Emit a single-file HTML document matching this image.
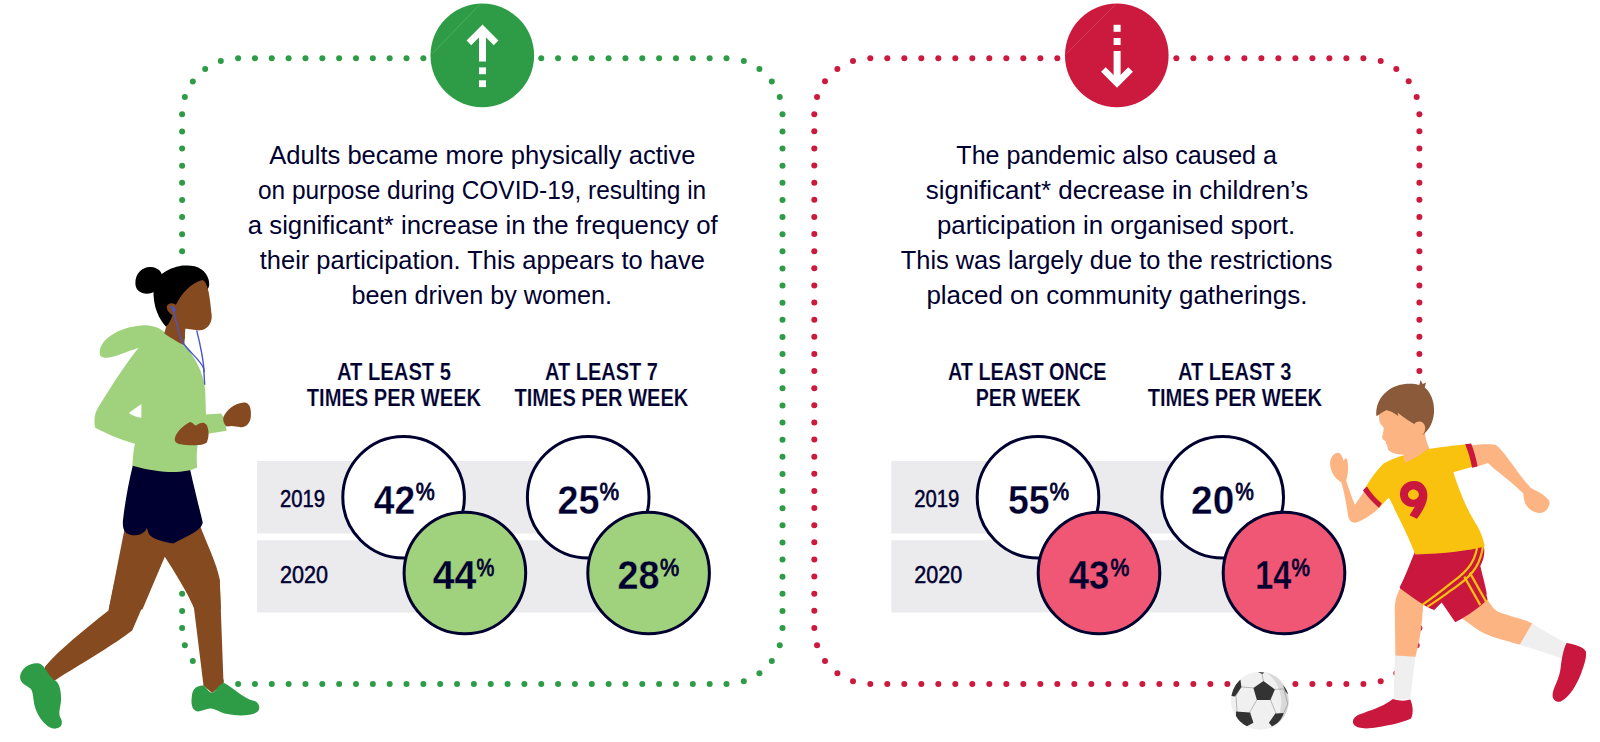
<!DOCTYPE html>
<html><head><meta charset="utf-8"><style>
html,body{margin:0;padding:0;background:#fff;width:1600px;height:742px;overflow:hidden}
svg{display:block;font-family:"Liberation Sans",sans-serif}
</style></head><body>
<svg width="1600" height="742" viewBox="0 0 1600 742">
<g fill="#2e9c46"><circle cx="238.10" cy="58.30" r="3.0"/><circle cx="254.94" cy="58.30" r="3.0"/><circle cx="271.78" cy="58.30" r="3.0"/><circle cx="288.62" cy="58.30" r="3.0"/><circle cx="305.47" cy="58.30" r="3.0"/><circle cx="322.31" cy="58.30" r="3.0"/><circle cx="339.15" cy="58.30" r="3.0"/><circle cx="355.99" cy="58.30" r="3.0"/><circle cx="372.83" cy="58.30" r="3.0"/><circle cx="389.67" cy="58.30" r="3.0"/><circle cx="406.51" cy="58.30" r="3.0"/><circle cx="423.36" cy="58.30" r="3.0"/><circle cx="440.20" cy="58.30" r="3.0"/><circle cx="457.04" cy="58.30" r="3.0"/><circle cx="473.88" cy="58.30" r="3.0"/><circle cx="490.72" cy="58.30" r="3.0"/><circle cx="507.56" cy="58.30" r="3.0"/><circle cx="524.40" cy="58.30" r="3.0"/><circle cx="541.24" cy="58.30" r="3.0"/><circle cx="558.09" cy="58.30" r="3.0"/><circle cx="574.93" cy="58.30" r="3.0"/><circle cx="591.77" cy="58.30" r="3.0"/><circle cx="608.61" cy="58.30" r="3.0"/><circle cx="625.45" cy="58.30" r="3.0"/><circle cx="642.29" cy="58.30" r="3.0"/><circle cx="659.13" cy="58.30" r="3.0"/><circle cx="675.98" cy="58.30" r="3.0"/><circle cx="692.82" cy="58.30" r="3.0"/><circle cx="709.66" cy="58.30" r="3.0"/><circle cx="726.50" cy="58.30" r="3.0"/><circle cx="743.80" cy="61.04" r="3.0"/><circle cx="759.42" cy="69.00" r="3.0"/><circle cx="771.80" cy="81.38" r="3.0"/><circle cx="779.76" cy="97.00" r="3.0"/><circle cx="782.50" cy="114.30" r="3.0"/><circle cx="782.50" cy="131.42" r="3.0"/><circle cx="782.50" cy="148.55" r="3.0"/><circle cx="782.50" cy="165.67" r="3.0"/><circle cx="782.50" cy="182.79" r="3.0"/><circle cx="782.50" cy="199.92" r="3.0"/><circle cx="782.50" cy="217.04" r="3.0"/><circle cx="782.50" cy="234.16" r="3.0"/><circle cx="782.50" cy="251.29" r="3.0"/><circle cx="782.50" cy="268.41" r="3.0"/><circle cx="782.50" cy="285.53" r="3.0"/><circle cx="782.50" cy="302.66" r="3.0"/><circle cx="782.50" cy="319.78" r="3.0"/><circle cx="782.50" cy="336.90" r="3.0"/><circle cx="782.50" cy="354.03" r="3.0"/><circle cx="782.50" cy="371.15" r="3.0"/><circle cx="782.50" cy="388.27" r="3.0"/><circle cx="782.50" cy="405.40" r="3.0"/><circle cx="782.50" cy="422.52" r="3.0"/><circle cx="782.50" cy="439.64" r="3.0"/><circle cx="782.50" cy="456.77" r="3.0"/><circle cx="782.50" cy="473.89" r="3.0"/><circle cx="782.50" cy="491.01" r="3.0"/><circle cx="782.50" cy="508.14" r="3.0"/><circle cx="782.50" cy="525.26" r="3.0"/><circle cx="782.50" cy="542.38" r="3.0"/><circle cx="782.50" cy="559.51" r="3.0"/><circle cx="782.50" cy="576.63" r="3.0"/><circle cx="782.50" cy="593.75" r="3.0"/><circle cx="782.50" cy="610.88" r="3.0"/><circle cx="782.50" cy="628.00" r="3.0"/><circle cx="779.76" cy="645.30" r="3.0"/><circle cx="771.80" cy="660.92" r="3.0"/><circle cx="759.42" cy="673.30" r="3.0"/><circle cx="743.80" cy="681.26" r="3.0"/><circle cx="726.50" cy="684.00" r="3.0"/><circle cx="709.66" cy="684.00" r="3.0"/><circle cx="692.82" cy="684.00" r="3.0"/><circle cx="675.98" cy="684.00" r="3.0"/><circle cx="659.13" cy="684.00" r="3.0"/><circle cx="642.29" cy="684.00" r="3.0"/><circle cx="625.45" cy="684.00" r="3.0"/><circle cx="608.61" cy="684.00" r="3.0"/><circle cx="591.77" cy="684.00" r="3.0"/><circle cx="574.93" cy="684.00" r="3.0"/><circle cx="558.09" cy="684.00" r="3.0"/><circle cx="541.24" cy="684.00" r="3.0"/><circle cx="524.40" cy="684.00" r="3.0"/><circle cx="507.56" cy="684.00" r="3.0"/><circle cx="490.72" cy="684.00" r="3.0"/><circle cx="473.88" cy="684.00" r="3.0"/><circle cx="457.04" cy="684.00" r="3.0"/><circle cx="440.20" cy="684.00" r="3.0"/><circle cx="423.36" cy="684.00" r="3.0"/><circle cx="406.51" cy="684.00" r="3.0"/><circle cx="389.67" cy="684.00" r="3.0"/><circle cx="372.83" cy="684.00" r="3.0"/><circle cx="355.99" cy="684.00" r="3.0"/><circle cx="339.15" cy="684.00" r="3.0"/><circle cx="322.31" cy="684.00" r="3.0"/><circle cx="305.47" cy="684.00" r="3.0"/><circle cx="288.62" cy="684.00" r="3.0"/><circle cx="271.78" cy="684.00" r="3.0"/><circle cx="254.94" cy="684.00" r="3.0"/><circle cx="238.10" cy="684.00" r="3.0"/><circle cx="220.80" cy="681.26" r="3.0"/><circle cx="205.18" cy="673.30" r="3.0"/><circle cx="192.80" cy="660.92" r="3.0"/><circle cx="184.84" cy="645.30" r="3.0"/><circle cx="182.10" cy="628.00" r="3.0"/><circle cx="182.10" cy="610.88" r="3.0"/><circle cx="182.10" cy="593.75" r="3.0"/><circle cx="182.10" cy="576.63" r="3.0"/><circle cx="182.10" cy="559.51" r="3.0"/><circle cx="182.10" cy="542.38" r="3.0"/><circle cx="182.10" cy="525.26" r="3.0"/><circle cx="182.10" cy="508.14" r="3.0"/><circle cx="182.10" cy="491.01" r="3.0"/><circle cx="182.10" cy="473.89" r="3.0"/><circle cx="182.10" cy="456.77" r="3.0"/><circle cx="182.10" cy="439.64" r="3.0"/><circle cx="182.10" cy="422.52" r="3.0"/><circle cx="182.10" cy="405.40" r="3.0"/><circle cx="182.10" cy="388.27" r="3.0"/><circle cx="182.10" cy="371.15" r="3.0"/><circle cx="182.10" cy="354.03" r="3.0"/><circle cx="182.10" cy="336.90" r="3.0"/><circle cx="182.10" cy="319.78" r="3.0"/><circle cx="182.10" cy="302.66" r="3.0"/><circle cx="182.10" cy="285.53" r="3.0"/><circle cx="182.10" cy="268.41" r="3.0"/><circle cx="182.10" cy="251.29" r="3.0"/><circle cx="182.10" cy="234.16" r="3.0"/><circle cx="182.10" cy="217.04" r="3.0"/><circle cx="182.10" cy="199.92" r="3.0"/><circle cx="182.10" cy="182.79" r="3.0"/><circle cx="182.10" cy="165.67" r="3.0"/><circle cx="182.10" cy="148.55" r="3.0"/><circle cx="182.10" cy="131.42" r="3.0"/><circle cx="182.10" cy="114.30" r="3.0"/><circle cx="184.84" cy="97.00" r="3.0"/><circle cx="192.80" cy="81.38" r="3.0"/><circle cx="205.18" cy="69.00" r="3.0"/><circle cx="220.80" cy="61.04" r="3.0"/></g>
<g fill="#cc1a3e"><circle cx="870.30" cy="58.20" r="3.0"/><circle cx="887.30" cy="58.20" r="3.0"/><circle cx="904.31" cy="58.20" r="3.0"/><circle cx="921.31" cy="58.20" r="3.0"/><circle cx="938.31" cy="58.20" r="3.0"/><circle cx="955.32" cy="58.20" r="3.0"/><circle cx="972.32" cy="58.20" r="3.0"/><circle cx="989.32" cy="58.20" r="3.0"/><circle cx="1006.33" cy="58.20" r="3.0"/><circle cx="1023.33" cy="58.20" r="3.0"/><circle cx="1040.33" cy="58.20" r="3.0"/><circle cx="1057.34" cy="58.20" r="3.0"/><circle cx="1074.34" cy="58.20" r="3.0"/><circle cx="1091.34" cy="58.20" r="3.0"/><circle cx="1108.35" cy="58.20" r="3.0"/><circle cx="1125.35" cy="58.20" r="3.0"/><circle cx="1142.36" cy="58.20" r="3.0"/><circle cx="1159.36" cy="58.20" r="3.0"/><circle cx="1176.36" cy="58.20" r="3.0"/><circle cx="1193.37" cy="58.20" r="3.0"/><circle cx="1210.37" cy="58.20" r="3.0"/><circle cx="1227.37" cy="58.20" r="3.0"/><circle cx="1244.38" cy="58.20" r="3.0"/><circle cx="1261.38" cy="58.20" r="3.0"/><circle cx="1278.38" cy="58.20" r="3.0"/><circle cx="1295.39" cy="58.20" r="3.0"/><circle cx="1312.39" cy="58.20" r="3.0"/><circle cx="1329.39" cy="58.20" r="3.0"/><circle cx="1346.40" cy="58.20" r="3.0"/><circle cx="1363.40" cy="58.20" r="3.0"/><circle cx="1380.70" cy="60.94" r="3.0"/><circle cx="1396.32" cy="68.90" r="3.0"/><circle cx="1408.70" cy="81.28" r="3.0"/><circle cx="1416.66" cy="96.90" r="3.0"/><circle cx="1419.40" cy="114.20" r="3.0"/><circle cx="1419.40" cy="131.33" r="3.0"/><circle cx="1419.40" cy="148.45" r="3.0"/><circle cx="1419.40" cy="165.58" r="3.0"/><circle cx="1419.40" cy="182.71" r="3.0"/><circle cx="1419.40" cy="199.83" r="3.0"/><circle cx="1419.40" cy="216.96" r="3.0"/><circle cx="1419.40" cy="234.09" r="3.0"/><circle cx="1419.40" cy="251.21" r="3.0"/><circle cx="1419.40" cy="268.34" r="3.0"/><circle cx="1419.40" cy="285.47" r="3.0"/><circle cx="1419.40" cy="302.59" r="3.0"/><circle cx="1419.40" cy="319.72" r="3.0"/><circle cx="1419.40" cy="336.85" r="3.0"/><circle cx="1419.40" cy="353.97" r="3.0"/><circle cx="1419.40" cy="371.10" r="3.0"/><circle cx="1419.40" cy="388.23" r="3.0"/><circle cx="1419.40" cy="405.35" r="3.0"/><circle cx="1419.40" cy="422.48" r="3.0"/><circle cx="1419.40" cy="439.61" r="3.0"/><circle cx="1419.40" cy="456.73" r="3.0"/><circle cx="1419.40" cy="473.86" r="3.0"/><circle cx="1419.40" cy="490.99" r="3.0"/><circle cx="1419.40" cy="508.11" r="3.0"/><circle cx="1419.40" cy="525.24" r="3.0"/><circle cx="1419.40" cy="542.37" r="3.0"/><circle cx="1419.40" cy="559.49" r="3.0"/><circle cx="1419.40" cy="576.62" r="3.0"/><circle cx="1419.40" cy="593.75" r="3.0"/><circle cx="1419.40" cy="610.87" r="3.0"/><circle cx="1419.40" cy="628.00" r="3.0"/><circle cx="1416.66" cy="645.30" r="3.0"/><circle cx="1408.70" cy="660.92" r="3.0"/><circle cx="1396.32" cy="673.30" r="3.0"/><circle cx="1380.70" cy="681.26" r="3.0"/><circle cx="1363.40" cy="684.00" r="3.0"/><circle cx="1346.40" cy="684.00" r="3.0"/><circle cx="1329.39" cy="684.00" r="3.0"/><circle cx="1312.39" cy="684.00" r="3.0"/><circle cx="1295.39" cy="684.00" r="3.0"/><circle cx="1278.38" cy="684.00" r="3.0"/><circle cx="1261.38" cy="684.00" r="3.0"/><circle cx="1244.38" cy="684.00" r="3.0"/><circle cx="1227.37" cy="684.00" r="3.0"/><circle cx="1210.37" cy="684.00" r="3.0"/><circle cx="1193.37" cy="684.00" r="3.0"/><circle cx="1176.36" cy="684.00" r="3.0"/><circle cx="1159.36" cy="684.00" r="3.0"/><circle cx="1142.36" cy="684.00" r="3.0"/><circle cx="1125.35" cy="684.00" r="3.0"/><circle cx="1108.35" cy="684.00" r="3.0"/><circle cx="1091.34" cy="684.00" r="3.0"/><circle cx="1074.34" cy="684.00" r="3.0"/><circle cx="1057.34" cy="684.00" r="3.0"/><circle cx="1040.33" cy="684.00" r="3.0"/><circle cx="1023.33" cy="684.00" r="3.0"/><circle cx="1006.33" cy="684.00" r="3.0"/><circle cx="989.32" cy="684.00" r="3.0"/><circle cx="972.32" cy="684.00" r="3.0"/><circle cx="955.32" cy="684.00" r="3.0"/><circle cx="938.31" cy="684.00" r="3.0"/><circle cx="921.31" cy="684.00" r="3.0"/><circle cx="904.31" cy="684.00" r="3.0"/><circle cx="887.30" cy="684.00" r="3.0"/><circle cx="870.30" cy="684.00" r="3.0"/><circle cx="853.00" cy="681.26" r="3.0"/><circle cx="837.38" cy="673.30" r="3.0"/><circle cx="825.00" cy="660.92" r="3.0"/><circle cx="817.04" cy="645.30" r="3.0"/><circle cx="814.30" cy="628.00" r="3.0"/><circle cx="814.30" cy="610.87" r="3.0"/><circle cx="814.30" cy="593.75" r="3.0"/><circle cx="814.30" cy="576.62" r="3.0"/><circle cx="814.30" cy="559.49" r="3.0"/><circle cx="814.30" cy="542.37" r="3.0"/><circle cx="814.30" cy="525.24" r="3.0"/><circle cx="814.30" cy="508.11" r="3.0"/><circle cx="814.30" cy="490.99" r="3.0"/><circle cx="814.30" cy="473.86" r="3.0"/><circle cx="814.30" cy="456.73" r="3.0"/><circle cx="814.30" cy="439.61" r="3.0"/><circle cx="814.30" cy="422.48" r="3.0"/><circle cx="814.30" cy="405.35" r="3.0"/><circle cx="814.30" cy="388.23" r="3.0"/><circle cx="814.30" cy="371.10" r="3.0"/><circle cx="814.30" cy="353.97" r="3.0"/><circle cx="814.30" cy="336.85" r="3.0"/><circle cx="814.30" cy="319.72" r="3.0"/><circle cx="814.30" cy="302.59" r="3.0"/><circle cx="814.30" cy="285.47" r="3.0"/><circle cx="814.30" cy="268.34" r="3.0"/><circle cx="814.30" cy="251.21" r="3.0"/><circle cx="814.30" cy="234.09" r="3.0"/><circle cx="814.30" cy="216.96" r="3.0"/><circle cx="814.30" cy="199.83" r="3.0"/><circle cx="814.30" cy="182.71" r="3.0"/><circle cx="814.30" cy="165.58" r="3.0"/><circle cx="814.30" cy="148.45" r="3.0"/><circle cx="814.30" cy="131.33" r="3.0"/><circle cx="814.30" cy="114.20" r="3.0"/><circle cx="817.04" cy="96.90" r="3.0"/><circle cx="825.00" cy="81.28" r="3.0"/><circle cx="837.38" cy="68.90" r="3.0"/><circle cx="853.00" cy="60.94" r="3.0"/></g>
<circle cx="482.3" cy="55.4" r="51.8" fill="#2e9c46"/>
<line x1="479.7" y1="4.6" x2="432.4" y2="53.5" stroke="#fff" stroke-opacity="0.25" stroke-width="0.6"/>
<g fill="#fff" stroke="none"><rect x="479" y="33" width="7" height="28.5"/><rect x="479" y="67.4" width="7" height="6.8"/><rect x="479" y="80.3" width="7" height="6.8"/></g><polyline points="468.9,42.8 482.5,29.2 496.1,42.8" fill="none" stroke="#fff" stroke-width="6.6" stroke-miterlimit="10"/>
<circle cx="1116.8" cy="55.4" r="51.8" fill="#cc1a3e"/>
<line x1="1115.5" y1="4.6" x2="1066.6" y2="53.5" stroke="#fff" stroke-opacity="0.25" stroke-width="0.6"/>
<g fill="#fff" stroke="none"><rect x="1113.6" y="51" width="7" height="29"/><rect x="1113.6" y="38" width="7" height="7"/><rect x="1113.6" y="24.8" width="7" height="7"/></g><polyline points="1103.4,69.5 1117,83 1130.6,69.5" fill="none" stroke="#fff" stroke-width="6.6" stroke-miterlimit="10"/>
<text transform="translate(482.35,163.8) scale(1,1.035)" x="0" y="0" font-size="25.4" text-anchor="middle" textLength="426.2" lengthAdjust="spacingAndGlyphs" fill="#000030">Adults became more physically active</text>
<text transform="translate(482.05,199.2) scale(1,1.035)" x="0" y="0" font-size="25.4" text-anchor="middle" textLength="448.2" lengthAdjust="spacingAndGlyphs" fill="#000030">on purpose during COVID-19, resulting in</text>
<text transform="translate(482.7,233.7) scale(1,1.035)" x="0" y="0" font-size="25.4" text-anchor="middle" textLength="469.9" lengthAdjust="spacingAndGlyphs" fill="#000030">a significant* increase in the frequency of</text>
<text transform="translate(482.3,269.0) scale(1,1.035)" x="0" y="0" font-size="25.4" text-anchor="middle" textLength="445.1" lengthAdjust="spacingAndGlyphs" fill="#000030">their participation. This appears to have</text>
<text transform="translate(481.8,304.2) scale(1,1.035)" x="0" y="0" font-size="25.4" text-anchor="middle" textLength="260.6" lengthAdjust="spacingAndGlyphs" fill="#000030">been driven by women.</text>
<text transform="translate(1116.65,163.8) scale(1,1.035)" x="0" y="0" font-size="25.4" text-anchor="middle" textLength="320.6" lengthAdjust="spacingAndGlyphs" fill="#000030">The pandemic also caused a</text>
<text transform="translate(1117.05,199.2) scale(1,1.035)" x="0" y="0" font-size="25.4" text-anchor="middle" textLength="382.4" lengthAdjust="spacingAndGlyphs" fill="#000030">significant* decrease in children’s</text>
<text transform="translate(1116.05,233.7) scale(1,1.035)" x="0" y="0" font-size="25.4" text-anchor="middle" textLength="358.2" lengthAdjust="spacingAndGlyphs" fill="#000030">participation in organised sport.</text>
<text transform="translate(1116.65,269.0) scale(1,1.035)" x="0" y="0" font-size="25.4" text-anchor="middle" textLength="431.8" lengthAdjust="spacingAndGlyphs" fill="#000030">This was largely due to the restrictions</text>
<text transform="translate(1116.9,304.2) scale(1,1.035)" x="0" y="0" font-size="25.4" text-anchor="middle" textLength="381.0" lengthAdjust="spacingAndGlyphs" fill="#000030">placed on community gatherings.</text>
<text transform="translate(394.0,380.0) scale(1,1.17)" x="0" y="0" font-size="20.5" font-weight="700" text-anchor="middle" textLength="114.1" lengthAdjust="spacingAndGlyphs" fill="#000030" stroke="#fff" stroke-width="0.15">AT LEAST 5</text>
<text transform="translate(393.95,405.5) scale(1,1.17)" x="0" y="0" font-size="20.5" font-weight="700" text-anchor="middle" textLength="174.4" lengthAdjust="spacingAndGlyphs" fill="#000030" stroke="#fff" stroke-width="0.15">TIMES PER WEEK</text>
<text transform="translate(601.5,380.0) scale(1,1.17)" x="0" y="0" font-size="20.5" font-weight="700" text-anchor="middle" textLength="113.0" lengthAdjust="spacingAndGlyphs" fill="#000030" stroke="#fff" stroke-width="0.15">AT LEAST 7</text>
<text transform="translate(601.4,405.5) scale(1,1.17)" x="0" y="0" font-size="20.5" font-weight="700" text-anchor="middle" textLength="173.85" lengthAdjust="spacingAndGlyphs" fill="#000030" stroke="#fff" stroke-width="0.15">TIMES PER WEEK</text>
<text transform="translate(1027.2,380.0) scale(1,1.17)" x="0" y="0" font-size="20.5" font-weight="700" text-anchor="middle" textLength="158.65" lengthAdjust="spacingAndGlyphs" fill="#000030" stroke="#fff" stroke-width="0.15">AT LEAST ONCE</text>
<text transform="translate(1028.2,405.5) scale(1,1.17)" x="0" y="0" font-size="20.5" font-weight="700" text-anchor="middle" textLength="104.9" lengthAdjust="spacingAndGlyphs" fill="#000030" stroke="#fff" stroke-width="0.15">PER WEEK</text>
<text transform="translate(1234.6,380.0) scale(1,1.17)" x="0" y="0" font-size="20.5" font-weight="700" text-anchor="middle" textLength="113.4" lengthAdjust="spacingAndGlyphs" fill="#000030" stroke="#fff" stroke-width="0.15">AT LEAST 3</text>
<text transform="translate(1234.9,405.5) scale(1,1.17)" x="0" y="0" font-size="20.5" font-weight="700" text-anchor="middle" textLength="174.5" lengthAdjust="spacingAndGlyphs" fill="#000030" stroke="#fff" stroke-width="0.15">TIMES PER WEEK</text>
<rect x="257" y="461" width="345" height="72.5" fill="#ebebee"/>
<rect x="257" y="540.2" width="345" height="72.3" fill="#ebebee"/>
<text x="280.0" y="507.2" font-size="23.3" font-weight="400" text-anchor="start" textLength="45.0" lengthAdjust="spacingAndGlyphs" fill="#000030" stroke="#000030" stroke-width="0.5">2019</text>
<text x="280.0" y="582.7" font-size="23.3" font-weight="400" text-anchor="start" textLength="48.0" lengthAdjust="spacingAndGlyphs" fill="#000030" stroke="#000030" stroke-width="0.5">2020</text>
<rect x="891.3" y="461" width="345" height="72.5" fill="#ebebee"/>
<rect x="891.3" y="540.2" width="345" height="72.3" fill="#ebebee"/>
<text x="914.3" y="507.2" font-size="23.3" font-weight="400" text-anchor="start" textLength="45.0" lengthAdjust="spacingAndGlyphs" fill="#000030" stroke="#000030" stroke-width="0.5">2019</text>
<text x="914.3" y="582.7" font-size="23.3" font-weight="400" text-anchor="start" textLength="48.0" lengthAdjust="spacingAndGlyphs" fill="#000030" stroke="#000030" stroke-width="0.5">2020</text>
<circle cx="403.6" cy="497.2" r="60.8" fill="#fff" stroke="#000030" stroke-width="3"/>
<text x="373.70" y="513.6" font-size="40" font-weight="700" textLength="41.40" lengthAdjust="spacingAndGlyphs" fill="#000030" stroke="#fff" stroke-width="0.3">42</text>
<text x="415.80" y="499.8" font-size="23.2" font-weight="400" textLength="19.00" lengthAdjust="spacingAndGlyphs" fill="#000030" stroke="#000030" stroke-width="0.8">%</text>
<circle cx="464.9" cy="573.0" r="60.8" fill="#a0d17c" stroke="#000030" stroke-width="3"/>
<text x="432.70" y="589.4" font-size="40" font-weight="700" textLength="43.60" lengthAdjust="spacingAndGlyphs" fill="#000030" stroke="#a0d17c" stroke-width="0.3">44</text>
<text x="476.40" y="575.6" font-size="23.2" font-weight="400" textLength="17.80" lengthAdjust="spacingAndGlyphs" fill="#000030" stroke="#000030" stroke-width="0.8">%</text>
<circle cx="588.2" cy="497.2" r="60.8" fill="#fff" stroke="#000030" stroke-width="3"/>
<text x="557.50" y="513.6" font-size="40" font-weight="700" textLength="42.00" lengthAdjust="spacingAndGlyphs" fill="#000030" stroke="#fff" stroke-width="0.3">25</text>
<text x="599.40" y="499.8" font-size="23.2" font-weight="400" textLength="19.60" lengthAdjust="spacingAndGlyphs" fill="#000030" stroke="#000030" stroke-width="0.8">%</text>
<circle cx="648.6" cy="573.0" r="60.8" fill="#a0d17c" stroke="#000030" stroke-width="3"/>
<text x="617.50" y="589.4" font-size="40" font-weight="700" textLength="42.00" lengthAdjust="spacingAndGlyphs" fill="#000030" stroke="#a0d17c" stroke-width="0.3">28</text>
<text x="660.00" y="575.6" font-size="23.2" font-weight="400" textLength="19.20" lengthAdjust="spacingAndGlyphs" fill="#000030" stroke="#000030" stroke-width="0.8">%</text>
<circle cx="1038.0" cy="497.2" r="60.8" fill="#fff" stroke="#000030" stroke-width="3"/>
<text x="1007.90" y="513.6" font-size="40" font-weight="700" textLength="41.60" lengthAdjust="spacingAndGlyphs" fill="#000030" stroke="#fff" stroke-width="0.3">55</text>
<text x="1049.40" y="499.8" font-size="23.2" font-weight="400" textLength="19.60" lengthAdjust="spacingAndGlyphs" fill="#000030" stroke="#000030" stroke-width="0.8">%</text>
<circle cx="1099.0" cy="573.0" r="60.8" fill="#ef5775" stroke="#000030" stroke-width="3"/>
<text x="1068.70" y="589.4" font-size="40" font-weight="700" textLength="40.40" lengthAdjust="spacingAndGlyphs" fill="#000030" stroke="#ef5775" stroke-width="0.3">43</text>
<text x="1110.40" y="575.6" font-size="23.2" font-weight="400" textLength="18.80" lengthAdjust="spacingAndGlyphs" fill="#000030" stroke="#000030" stroke-width="0.8">%</text>
<circle cx="1222.7" cy="497.2" r="60.8" fill="#fff" stroke="#000030" stroke-width="3"/>
<text x="1191.10" y="513.6" font-size="40" font-weight="700" textLength="43.20" lengthAdjust="spacingAndGlyphs" fill="#000030" stroke="#fff" stroke-width="0.3">20</text>
<text x="1235.20" y="499.8" font-size="23.2" font-weight="400" textLength="18.60" lengthAdjust="spacingAndGlyphs" fill="#000030" stroke="#000030" stroke-width="0.8">%</text>
<circle cx="1284.0" cy="573.0" r="60.8" fill="#ef5775" stroke="#000030" stroke-width="3"/>
<text x="1255.30" y="589.4" font-size="40" font-weight="700" textLength="36.00" lengthAdjust="spacingAndGlyphs" fill="#000030" stroke="#ef5775" stroke-width="0.3">14</text>
<text x="1291.60" y="575.6" font-size="23.2" font-weight="400" textLength="18.40" lengthAdjust="spacingAndGlyphs" fill="#000030" stroke="#000030" stroke-width="0.8">%</text>
<path d="M 114.5 581.9 L 108.5 610.6 C 84.8 629.3 59.9 649.3 44.9 666.7 L 43.7 679.2 L 54.9 680.4 C 84.8 661.7 114.7 644.3 132.2 630.6 L 153.1 581.9 Z" fill="#854a1f" />
<path d="M 183.6 579.4 L 219.7 579.4 L 223.5 682.9 L 212.2 692.9 L 203.5 685.4 L 192.3 594.4 Z" fill="#854a1f" />
<path d="M 124.9 527.2 L 199.7 524.7 C 207.2 544.7 217.2 564.6 219.7 579.6 L 220.9 609.5 L 194.7 609.5 C 187.3 592.1 174.8 572.1 164.8 556.7 L 142.4 609.5 L 108.7 609.5 Z" fill="#854a1f" />
<path d="M 20.0 676.7 C 21.2 666.7 32.4 661.7 39.9 663.7 C 44.9 665.5 47.4 674.2 53.6 679.7 C 59.9 681.7 61.1 691.7 61.1 699.1 C 60.6 709.1 57.4 712.9 61.1 719.1 C 63.6 725.3 59.9 729.1 53.6 728.6 C 46.2 727.8 37.4 716.6 34.9 706.6 C 32.9 699.1 33.7 694.2 31.2 689.2 C 27.5 685.4 20.0 684.2 20.0 676.7 Z" fill="#2e9c46" />
<path d="M 191.8 696.7 C 192.3 687.9 197.3 685.4 204.3 685.4 C 207.3 689.2 209.8 692.9 212.7 692.9 C 216.0 690.4 219.7 682.9 224.2 682.9 C 232.2 686.7 242.2 697.9 254.6 701.1 C 259.6 702.9 260.9 709.1 257.1 712.1 C 252.1 715.4 239.7 716.6 227.2 714.1 C 219.7 712.9 214.7 707.9 209.8 708.6 C 202.3 709.6 197.3 714.1 193.5 709.1 C 191.0 705.4 191.3 700.4 191.8 696.7 Z" fill="#2e9c46" />
<path d="M 132.9 464.9 C 152.3 468.6 172.3 471.1 190.2 469.9 C 194.7 489.8 199.7 509.8 202.7 522.2 C 202.2 529.7 189.8 534.7 173.5 543.4 C 164.8 542.2 152.3 539.7 148.6 533.5 L 146.9 527.7 C 144.9 533.5 137.4 536.7 129.9 534.7 C 124.9 533.5 122.4 529.7 122.9 521.0 C 124.9 502.3 128.7 482.3 132.9 464.9 Z" fill="#000030" />
<path d="M 100.0 354.8 C 97.5 341.0 117.4 326.8 143.6 325.3 C 152.3 325.3 159.8 327.8 164.8 332.3 L 184.8 345.3 C 194.7 357.2 203.5 372.2 205.2 389.7 L 206.0 414.6 L 220.9 413.6 C 224.7 417.1 225.9 427.1 226.7 430.8 L 199.7 435.0 C 197.2 444.5 196.0 454.5 197.2 467.5 C 184.8 473.2 164.8 474.5 132.4 465.7 C 132.9 457.0 133.6 449.5 134.9 443.8 C 119.9 439.5 105.0 433.3 95.0 427.6 C 93.7 417.1 95.0 412.1 100.0 404.6 C 112.4 384.7 124.9 364.7 138.6 347.8 C 124.9 352.3 112.4 358.5 105.0 357.7 C 101.2 357.2 100.0 356.0 100.0 354.8 Z" fill="#a0d17c" />
<path d="M 129.4 412.6 L 141.4 404.1 L 141.4 417.8 C 137.4 417.1 132.4 415.8 129.4 413.4 Z" fill="#ffffff" />
<path d="M 153.6 287.4 C 157.3 270.0 179.8 263.0 194.7 266.2 C 204.7 268.7 209.7 277.4 209.2 284.9 C 208.7 288.7 207.2 289.9 205.2 288.7 L 207.2 304.9 L 189.8 319.8 C 182.3 323.6 172.3 322.3 166.1 326.8 C 159.8 319.8 152.3 307.4 153.6 287.4 Z" fill="#000000" />
<path d="M 135.4 283.7 C 134.9 272.5 143.6 266.2 151.1 267.0 C 157.3 267.5 162.3 271.2 162.3 277.4 C 162.3 287.4 154.8 293.7 146.1 293.7 C 138.6 292.9 135.6 288.7 135.4 283.7 Z" fill="#000000" />
<path d="M 176.0 304.4 C 182.3 292.4 191.0 282.9 202.2 279.9 C 208.5 281.2 210.2 299.9 211.7 314.9 C 212.2 323.6 207.2 329.8 199.7 330.3 C 194.7 330.3 188.5 328.8 185.3 328.8 L 184.3 345.3 C 177.3 342.3 169.8 337.3 164.3 333.6 L 166.1 326.8 C 172.3 319.8 173.5 311.1 176.0 304.4 Z" fill="#854a1f" />
<path d="M 166.8 306.1 C 168.6 301.9 174.8 302.4 177.3 306.1 C 177.8 311.1 176.0 316.1 172.3 314.9 C 169.3 313.6 166.3 310.4 166.8 306.1 Z" fill="#854a1f" />
<path d="M 174.8 438.7 C 176.0 432.5 182.3 426.2 189.8 422.0 C 192.7 422.0 193.5 425.0 196.0 425.5 C 199.7 423.0 203.5 421.2 206.7 425.0 C 209.2 430.0 209.2 437.5 206.7 442.4 C 203.5 445.4 194.7 445.4 186.0 444.9 C 178.5 444.4 174.3 442.9 174.8 438.7 Z" fill="#854a1f" />
<path d="M 223.4 417.1 C 227.2 409.6 233.4 404.1 243.4 402.6 C 249.6 402.1 251.6 408.4 250.8 417.1 C 250.1 424.6 244.6 428.3 239.6 427.1 C 235.9 426.6 232.1 425.1 226.7 426.6 C 224.2 424.6 222.7 420.8 223.4 417.1 Z" fill="#854a1f" />
<path d="M 172.3 307.4 C 176.0 317.3 178.5 337.3 183.5 343.5 C 189.8 352.3 202.2 362.2 203.7 368.5 L 204.7 384.7" fill="none" stroke="#4a56c8" stroke-width="1.4"/>
<path d="M 196.7 330.3 C 199.7 342.3 203.5 359.7 204.2 372.2" fill="none" stroke="#4a56c8" stroke-width="1.4"/>
<path d="M 170.3 306.1 C 172.3 304.9 175.3 307.4 176.0 311.1 L 173.5 311.9 Z" fill="#4a56c8" />
<defs><clipPath id="ballclip"><circle cx="1259.9" cy="700.8" r="29.0"/></clipPath></defs>
<circle cx="1259.9" cy="700.8" r="29.0" fill="#f0f0f0"/>
<g clip-path="url(#ballclip)">
<path d="M 1263.9 671.0 C 1279.9 674.0 1289.8 689.9 1288.8 702.9 C 1287.8 715.9 1279.9 725.8 1266.9 729.8 C 1279.9 719.9 1283.8 704.9 1279.9 691.9 C 1276.9 681.9 1271.9 676.0 1263.9 671.0 Z" fill="#d9d9d9" />
<path d="M 1263.4 680.9 L 1261.9 673.5 M 1274.9 689.4 L 1283.8 688.9 M 1270.4 699.9 L 1275.9 712.9 M 1256.9 699.9 L 1249.9 711.9 M 1253.4 687.9 L 1240.9 686.9 M 1249.9 711.9 L 1252.9 722.8 M 1275.9 712.9 L 1269.9 723.8 M 1240.9 686.9 L 1236.0 695.9 M 1236.0 695.9 L 1237.0 711.9 M 1283.8 688.9 L 1287.8 703.9 L 1283.8 712.9" fill="none" stroke="#4a4a4a" stroke-width="0.35"/>
<path d="M 1263.4 680.9 L 1274.9 689.4 L 1270.4 699.9 L 1256.9 699.9 L 1253.4 687.9 Z" fill="#333333" />
<path d="M 1257.9 672.0 L 1264.4 672.5 L 1262.4 674.0 Z" fill="#333333" />
<path d="M 1240.4 679.5 L 1241.4 686.9 L 1235.0 696.4 L 1231.0 695.9 C 1232.0 689.9 1236.0 682.9 1240.4 679.5 Z" fill="#333333" />
<path d="M 1282.8 684.9 C 1285.8 687.9 1287.8 691.9 1288.8 694.9 L 1285.8 691.9 Z" fill="#333333" />
<path d="M 1236.0 711.4 L 1249.9 712.4 L 1253.4 722.8 L 1246.9 726.3 C 1241.9 723.8 1238.0 719.9 1236.0 715.9 Z" fill="#333333" />
<path d="M 1283.8 712.9 C 1281.8 718.9 1277.9 723.8 1271.9 726.3 L 1268.9 722.8 L 1275.4 713.4 Z" fill="#333333" />
</g>
<path d="M 1449.9 606.9 L 1487.3 599.4 C 1492.3 606.9 1494.8 610.6 1499.8 612.4 C 1512.2 616.9 1524.7 619.3 1532.7 623.8 L 1520.2 644.8 C 1504.7 640.5 1489.8 636.8 1481.0 631.8 C 1473.6 626.8 1467.3 621.8 1459.9 616.9 Z" fill="#fdb483" />
<path d="M 1532.2 623.3 C 1544.6 631.8 1559.6 639.3 1570.1 645.5 L 1563.6 659.2 C 1549.6 654.3 1534.7 649.3 1519.7 644.8 Z" fill="#efefef" />
<path d="M 1566.6 643.0 C 1574.6 644.3 1583.3 646.8 1585.8 651.3 C 1587.0 656.8 1584.5 664.2 1580.8 674.2 C 1575.8 686.7 1569.6 696.7 1560.8 701.6 C 1555.9 702.9 1552.1 699.1 1552.6 694.2 C 1553.4 686.7 1559.6 679.2 1560.8 666.7 C 1561.6 659.2 1563.3 649.3 1566.6 643.0 Z" fill="#c9173d" />
<path d="M 1401.1 586.9 C 1396.1 594.4 1394.4 601.9 1394.9 614.4 L 1395.4 656.8 L 1415.3 657.2 C 1419.3 641.8 1422.3 626.8 1422.8 606.9 L 1423.5 594.4 Z" fill="#fdb483" />
<path d="M 1394.9 655.5 L 1415.3 656.8 L 1410.3 699.6 L 1393.6 699.1 Z" fill="#efefef" />
<path d="M 1392.9 699.1 C 1399.9 701.1 1405.3 701.1 1410.3 699.6 C 1412.8 705.4 1413.8 712.9 1411.1 718.6 C 1402.3 722.8 1389.9 725.3 1377.4 727.3 C 1367.4 729.1 1357.5 729.1 1353.7 724.6 C 1351.2 719.1 1355.0 715.4 1363.7 712.9 C 1374.9 709.1 1384.9 705.4 1392.9 699.1 Z" fill="#c9173d" />
<path d="M 1414.4 554.7 C 1437.4 552.2 1462.3 547.2 1482.3 542.2 C 1485.3 547.2 1485.3 557.2 1480.3 565.9 C 1483.5 579.6 1486.0 587.1 1486.8 594.6 L 1442.1 596.8 L 1399.5 587.6 C 1405.0 577.1 1410.0 565.9 1414.4 554.7 Z" fill="#c9173d" />
<path d="M 1414.8 552.0 L 1474.7 552.0 C 1479.7 569.5 1484.6 586.9 1487.6 599.4 C 1479.7 606.9 1469.7 614.4 1455.2 622.3 L 1441.7 602.4 L 1434.3 609.9 C 1427.3 608.1 1414.8 599.4 1399.9 588.2 C 1404.8 577.0 1409.8 564.5 1414.8 552.0 Z" fill="#c9173d" />
<path d="M 1477.8 542.7 C 1476.0 559.7 1469.8 569.7 1452.3 582.1 C 1439.9 592.1 1429.9 599.6 1421.9 605.1" fill="none" stroke="#f8c20e" stroke-width="2.2" stroke-linecap="butt"/>
<path d="M 1483.3 544.2 C 1481.0 562.2 1474.8 573.4 1457.3 585.9 C 1444.9 594.6 1434.9 602.1 1427.4 606.6" fill="none" stroke="#f8c20e" stroke-width="2.2" stroke-linecap="butt"/>
<path d="M 1464.3 576.6 L 1480.3 605.1" fill="none" stroke="#f8c20e" stroke-width="2.2" stroke-linecap="butt"/>
<path d="M 1469.8 572.6 L 1486.3 602.1" fill="none" stroke="#f8c20e" stroke-width="2.2" stroke-linecap="butt"/>
<path d="M 1469.8 445.5 C 1479.8 444.5 1489.8 443.7 1496.0 445.0 C 1502.2 450.0 1507.2 457.4 1514.7 467.4 C 1519.7 474.9 1525.9 482.4 1530.9 487.9 C 1539.6 492.3 1547.1 496.1 1549.6 501.8 C 1549.6 508.6 1544.6 513.5 1538.4 513.0 C 1533.4 512.3 1529.7 509.8 1526.7 506.1 C 1524.2 502.3 1523.4 497.3 1523.4 493.6 C 1514.7 484.9 1504.7 477.4 1497.2 471.1 C 1492.2 467.4 1489.3 463.7 1487.8 462.9 L 1476.0 466.9 Z" fill="#fdb483" />
<path d="M 1366.1 488.5 L 1381.1 505.9 C 1373.6 513.4 1364.9 519.6 1356.2 522.6 C 1351.2 523.4 1348.7 519.6 1347.9 514.7 C 1346.2 502.2 1343.7 489.7 1341.2 482.2 C 1335.0 478.5 1330.5 472.3 1330.0 463.5 C 1330.5 456.0 1335.0 452.3 1338.7 452.8 C 1341.9 454.3 1342.9 458.5 1343.7 461.0 C 1344.9 457.3 1346.9 457.3 1347.4 461.0 C 1348.7 467.3 1347.9 474.8 1346.2 481.0 C 1349.4 489.7 1352.4 499.7 1354.9 504.7 C 1358.7 499.7 1362.4 493.5 1366.1 488.5 Z" fill="#fdb483" />
<path d="M 1376.4 416.1 L 1378.9 414.9 C 1378.9 418.6 1379.4 421.1 1379.9 422.4 C 1381.1 424.9 1382.8 426.1 1383.8 428.1 C 1383.8 429.9 1383.3 431.1 1383.3 432.1 L 1382.1 437.6 L 1382.8 439.3 L 1386.1 441.8 L 1385.8 443.8 L 1387.3 445.8 C 1387.8 447.8 1387.8 449.3 1388.3 449.8 C 1391.1 452.8 1394.8 454.3 1403.8 454.8 L 1405.3 467.3 L 1431.0 452.3 C 1426.0 442.3 1424.7 434.9 1424.7 426.1 L 1424.7 399.9 L 1379.9 399.9 Z" fill="#fdb483" />
<path d="M 1403.8 455.3 C 1404.3 457.8 1404.8 461.0 1405.3 462.8 C 1412.3 459.8 1421.0 454.8 1427.2 449.3 C 1439.7 447.3 1454.7 445.3 1466.6 444.3 C 1469.6 452.3 1472.1 459.8 1472.6 466.8 C 1465.9 468.5 1459.7 470.3 1453.4 472.3 C 1457.2 484.7 1464.6 504.7 1473.4 519.6 C 1479.6 529.6 1483.3 537.1 1484.6 546.6 C 1469.6 550.8 1444.7 553.6 1415.3 554.6 C 1409.8 539.6 1402.3 524.6 1394.8 509.7 C 1392.3 503.4 1390.3 499.7 1388.6 497.7 C 1385.3 500.9 1382.3 504.7 1379.4 507.7 C 1372.4 502.2 1368.6 494.7 1364.4 489.2 C 1369.9 479.7 1376.1 471.0 1383.6 463.5 C 1389.8 459.8 1397.3 457.3 1403.8 455.3 Z" fill="#f8c20e" />
<path d="M 1465.1 444.3 L 1471.1 443.6 C 1474.1 451.1 1476.1 458.5 1477.6 466.3 L 1472.1 467.8 C 1470.6 459.8 1468.4 451.8 1465.1 444.3 Z" fill="#c9173d" />
<path d="M 1362.9 490.2 L 1366.9 486.5 C 1371.1 492.7 1376.1 499.2 1381.8 503.4 L 1378.9 507.7 C 1372.9 502.7 1367.4 496.7 1362.9 490.2 Z" fill="#c9173d" />
<path d="M 1376.4 415.4 C 1375.4 402.4 1383.6 389.5 1399.3 385.0 C 1407.3 383.0 1414.8 383.5 1419.3 385.0 L 1420.5 380.0 L 1422.7 384.0 L 1426.0 382.5 L 1424.7 387.5 C 1431.0 392.5 1434.7 402.4 1434.0 412.4 C 1433.2 422.4 1429.2 429.9 1422.2 435.3 C 1419.8 431.1 1417.8 427.4 1415.3 424.9 C 1412.3 422.9 1408.8 420.9 1406.3 419.1 C 1403.5 417.4 1401.3 415.4 1399.8 414.2 L 1397.6 412.7 L 1398.3 415.9 C 1394.8 413.7 1392.8 412.2 1391.1 411.7 C 1388.8 410.7 1387.3 410.2 1386.1 410.2 C 1382.3 411.9 1379.4 414.4 1376.4 415.9 Z" fill="#8a5a3a" />
<path d="M 1414.3 423.9 C 1417.8 419.9 1424.2 420.9 1425.2 427.4 C 1425.2 432.9 1422.2 436.3 1419.3 435.3 C 1416.3 432.9 1413.8 428.4 1414.3 423.9 Z" fill="#fdb483" />
<path d="M 1413.7 481.1 C 1421.2 480.6 1427.4 486.9 1427.4 495.3 C 1427.4 502.3 1423.7 509.8 1416.9 518.8 L 1409.5 515.3 L 1414.9 506.8 C 1406.2 507.8 1400.0 502.3 1400.0 494.3 C 1400.0 486.4 1406.2 481.4 1413.7 481.1 Z M 1413.4 489.4 C 1410.4 489.4 1408.0 491.8 1408.0 494.6 C 1408.0 497.3 1410.4 499.8 1413.4 499.8 C 1416.4 499.8 1418.9 497.3 1418.9 494.6 C 1418.9 491.8 1416.4 489.4 1413.4 489.4 Z" fill="#c9173d" fill-rule="evenodd"/>
</svg>
</body></html>
